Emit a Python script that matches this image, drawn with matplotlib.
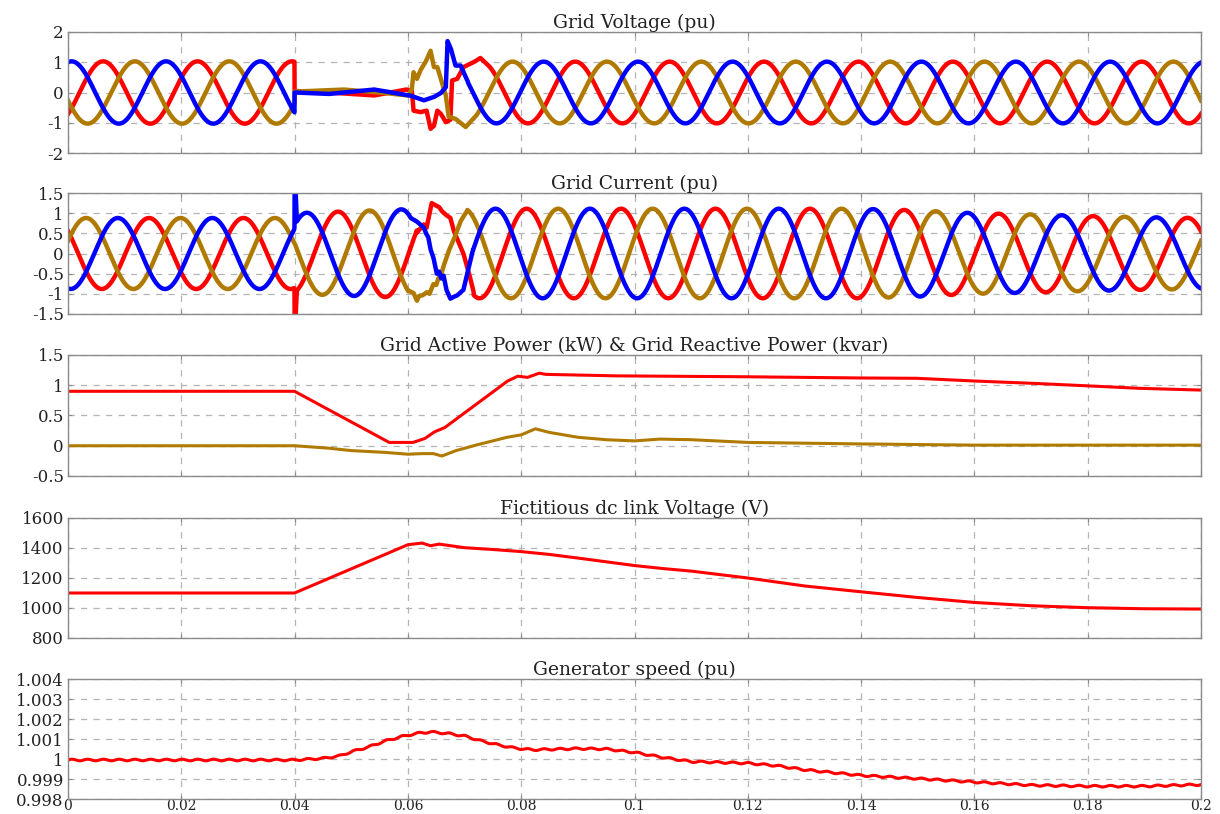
import numpy as np
import matplotlib
matplotlib.use('Agg')
import matplotlib.pyplot as plt

plt.rcParams['font.family'] = ['DejaVu Serif', 'Liberation Serif']

RED = '#ff0000'
BLUE = '#0000ff'
BROWN = '#b07a00'

f_grid = 60.0
t = np.linspace(0, 0.2, 8001)

# ---- grid voltage (pu): time of a positive peak per phase, amplitude envelope
v_peak = {'a': 0.0062, 'b': 0.00064, 'c': 0.0118}
v_env_t = [0.0, 0.04, 0.07, 0.2]
v_env_v = [1.03, 1.03, 1.02, 1.02]

# fault / recovery part
va_fault_t = [0.04, 0.046, 0.054, 0.0597, 0.0607, 0.061, 0.0622, 0.0633, 0.064, 0.0646,
              0.0652, 0.0658, 0.0667, 0.0675, 0.0678, 0.0687, 0.0698, 0.0716, 0.0728, 0.0745]
va_fault_v = [0.05, 0.0, -0.1, 0.1, 0.05, -0.6, -0.65, -0.6, -1.2, -1.1,
              -0.6, -0.7, -0.98, -0.9, 0.4, 0.45, 0.84, 1.0, 1.14, 0.84]
vb_fault_t = [0.04, 0.046, 0.054, 0.0604, 0.0628, 0.0646, 0.0658, 0.0667, 0.067, 0.0676,
              0.0684, 0.0693, 0.0706]
vb_fault_v = [0.0, -0.05, 0.1, -0.1, -0.26, -0.15, -0.02, 0.18, 1.7, 1.44,
              0.89, 0.89, 0.35]
vc_fault_t = [0.04, 0.0486, 0.055, 0.0601, 0.0607, 0.061, 0.0616, 0.0622, 0.0631, 0.064,
              0.0646, 0.0652, 0.0658, 0.0667, 0.0672, 0.0684, 0.0702, 0.072]
vc_fault_v = [0.03, 0.1, 0.0, -0.1, 0.12, 0.67, 0.45, 0.73, 1.0, 1.38,
              0.84, 0.84, 0.45, -0.1, -0.8, -0.87, -1.14, -0.78]

# ---- grid current (pu)
i_peak = {'a': 0.0143, 'b': 0.0088, 'c': 0.0032}
i_env_t = [0.0, 0.0399, 0.0401, 0.06, 0.068, 0.14, 0.15, 0.16, 0.17, 0.18, 0.19, 0.2]
i_env_v = [0.88, 0.88, 1.0, 1.1, 1.11, 1.11, 1.07, 1.0, 0.97, 0.93, 0.9, 0.88]

ia_spike_t = [0.04, 0.0402, 0.0404]
ia_spike_v = [-1.5, -1.5, -0.88]
ib_spike_t = [0.04, 0.0402, 0.0404]
ib_spike_v = [1.5, 1.5, 0.8]
ia_fault_t = [0.0616, 0.0628, 0.0633, 0.0642, 0.0648, 0.0655, 0.066, 0.0666, 0.0675,
              0.0681, 0.0698, 0.0708, 0.0716]
ia_fault_v = [0.52, 0.72, 0.64, 1.25, 1.2, 1.15, 1.05, 0.97, 0.88,
              0.56, 0.0, -0.5, -0.95]
ib_fault_t = [0.0605, 0.0615, 0.0622, 0.0628, 0.0632, 0.0636, 0.064, 0.0645, 0.0651,
              0.0655, 0.0659, 0.0663, 0.0668, 0.0675, 0.068, 0.0687, 0.0698, 0.0715]
ib_fault_v = [0.88, 0.8, 0.72, 0.64, 0.5, 0.4, 0.1, -0.1, -0.5,
              -0.45, -0.62, -0.55, -0.9, -1.12, -1.08, -1.04, -0.9, 0.1]
ic_fault_t = [0.0601, 0.061, 0.0616, 0.062, 0.0625, 0.063, 0.0633, 0.0638, 0.0645,
              0.065, 0.0654, 0.0658, 0.0663, 0.0672, 0.0681, 0.0693, 0.0705]
ic_fault_v = [-0.92, -0.98, -1.17, -1.05, -1.04, -1.0, -0.96, -1.0, -0.76,
              -0.78, -0.6, -0.55, -0.31, 0.06, 0.35, 0.8, 1.07]

# ---- active / reactive power
p_t = [0.0, 0.04, 0.0567, 0.0609, 0.063, 0.0647, 0.0665, 0.0776, 0.0794, 0.0811, 0.0832,
       0.0843, 0.0969, 0.12, 0.14, 0.1498, 0.16, 0.1708, 0.18, 0.189, 0.2]
p_v = [0.9, 0.9, 0.055, 0.055, 0.12, 0.23, 0.3, 1.07, 1.15, 1.13, 1.2,
       1.18, 1.155, 1.14, 1.12, 1.115, 1.07, 1.03, 0.99, 0.95, 0.92]
q_t = [0.0, 0.04, 0.046, 0.05, 0.056, 0.06, 0.0625, 0.0645, 0.066, 0.0685, 0.072, 0.0775,
       0.08, 0.0825, 0.085, 0.09, 0.095, 0.1, 0.1045, 0.11, 0.12, 0.14, 0.16, 0.2]
q_v = [0.0, 0.0, -0.04, -0.08, -0.11, -0.14, -0.13, -0.13, -0.17, -0.08, 0.01, 0.14,
       0.18, 0.28, 0.22, 0.14, 0.1, 0.08, 0.11, 0.1, 0.055, 0.03, 0.01, 0.01]

# ---- fictitious dc link voltage
vdc_t = [0.0, 0.04, 0.06, 0.0625, 0.064, 0.0655, 0.07, 0.075, 0.08, 0.085, 0.09, 0.095,
         0.1, 0.105, 0.11, 0.12, 0.13, 0.14, 0.15, 0.16, 0.17, 0.18, 0.19, 0.2]
vdc_v = [1100, 1100, 1422, 1433, 1415, 1426, 1402, 1390, 1376, 1357, 1333, 1308,
         1283, 1263, 1246, 1200, 1147, 1108, 1070, 1037, 1015, 1002, 995, 993]

# ---- generator speed
w_t = [0.0, 0.04, 0.045, 0.048, 0.05, 0.053, 0.056, 0.059, 0.062, 0.064, 0.067, 0.07,
       0.073, 0.076, 0.079, 0.082, 0.09, 0.095, 0.1, 0.105, 0.11, 0.12, 0.125, 0.13, 0.14,
       0.15, 0.16, 0.17, 0.18, 0.19, 0.2]
w_v = [0.99995, 0.99995, 1.00003, 1.00016, 1.00036, 1.0006, 1.0009, 1.00113, 1.0013,
       1.00135, 1.00128, 1.00115, 1.0009, 1.0007, 1.00054, 1.00046, 1.00052, 1.0005,
       1.00033, 1.00008, 0.99987, 0.99979, 0.99967, 0.99946, 0.99918, 0.99902, 0.99885,
       0.99869, 0.99864, 0.99864, 0.99872]
w_ripple_amp = 0.00004
w_ripple_f = 360.0


def wave(peak, env_t, env_v, pieces=()):
    y = np.interp(t, env_t, env_v) * np.cos(2 * np.pi * f_grid * (t - peak))
    for seg_t, seg_v in pieces:
        m = (t >= seg_t[0]) & (t <= seg_t[-1])
        y[m] = np.interp(t[m], seg_t, seg_v)
    return y


va = wave(v_peak['a'], v_env_t, v_env_v, pieces=[(va_fault_t, va_fault_v)])
vb = wave(v_peak['b'], v_env_t, v_env_v, pieces=[(vb_fault_t, vb_fault_v)])
vc = wave(v_peak['c'], v_env_t, v_env_v, pieces=[(vc_fault_t, vc_fault_v)])

ia = wave(i_peak['a'], i_env_t, i_env_v, pieces=[(ia_spike_t, ia_spike_v), (ia_fault_t, ia_fault_v)])
ib = wave(i_peak['b'], i_env_t, i_env_v, pieces=[(ib_spike_t, ib_spike_v), (ib_fault_t, ib_fault_v)])
ic = wave(i_peak['c'], i_env_t, i_env_v, pieces=[(ic_fault_t, ic_fault_v)])

speed = np.interp(t, w_t, w_v) + w_ripple_amp * np.sin(2 * np.pi * w_ripple_f * t)

fig = plt.figure(figsize=(12.2, 8.14), dpi=100)
W, H = 1220.0, 814.0
tops = [32, 193, 355, 518, 679]
bottoms = [153, 314, 476, 638, 799]
left, right = 68, 1201

axes = []
for tp, bt in zip(tops, bottoms):
    ax = fig.add_axes([left / W, 1 - bt / H, (right - left) / W, (bt - tp) / H])
    axes.append(ax)

xticks = [0, 0.02, 0.04, 0.06, 0.08, 0.1, 0.12, 0.14, 0.16, 0.18, 0.2]
xlabels = ['0', '0.02', '0.04', '0.06', '0.08', '0.1', '0.12', '0.14', '0.16', '0.18', '0.2']

titles = ['Grid Voltage (pu)', 'Grid Current (pu)',
          'Grid Active Power (kW) & Grid Reactive Power (kvar)',
          'Fictitious dc link Voltage (V)', 'Generator speed (pu)']
yticks = [[-2, -1, 0, 1, 2],
          [-1.5, -1, -0.5, 0, 0.5, 1, 1.5],
          [-0.5, 0, 0.5, 1, 1.5],
          [800, 1000, 1200, 1400, 1600],
          [0.998, 0.999, 1.0, 1.001, 1.002, 1.003, 1.004]]
ylabels = [['-2', '-1', '0', '1', '2'],
           ['-1.5', '-1', '-0.5', '0', '0.5', '1', '1.5'],
           ['-0.5', '0', '0.5', '1', '1.5'],
           ['800', '1000', '1200', '1400', '1600'],
           ['0.998', '0.999', '1', '1.001', '1.002', '1.003', '1.004']]

lw_wave = 3.2
axes[0].plot(t, va, color=RED, lw=lw_wave)
axes[0].plot(t, vc, color=BROWN, lw=lw_wave)
axes[0].plot(t, vb, color=BLUE, lw=lw_wave)

axes[1].plot(t, ia, color=RED, lw=lw_wave)
axes[1].plot(t, ic, color=BROWN, lw=lw_wave)
axes[1].plot(t, ib, color=BLUE, lw=lw_wave)

axes[2].plot(q_t, q_v, color=BROWN, lw=2.2)
axes[2].plot(p_t, p_v, color=RED, lw=2.2)

axes[3].plot(vdc_t, vdc_v, color=RED, lw=2.2)

axes[4].plot(t, speed, color=RED, lw=2.2)

for i, ax in enumerate(axes):
    ax.set_xlim(0, 0.2)
    ax.set_ylim(yticks[i][0], yticks[i][-1])
    ax.set_yticks(yticks[i])
    ax.set_yticklabels(ylabels[i])
    ax.set_xticks(xticks)
    if i == 4:
        ax.set_xticklabels(xlabels)
    else:
        ax.set_xticklabels([])
    ax.set_title(titles[i], fontsize=13.5, pad=3, color='#222222')
    ax.grid(True, color='#b4b4b4', linestyle=(0, (5, 5)), linewidth=0.9)
    for s in ax.spines.values():
        s.set_color('#8a8a8a')
        s.set_linewidth(1.0)
    ax.tick_params(direction='in', length=3, color='#8a8a8a', labelsize=12,
                   labelcolor='#222222', right=True, top=True, pad=3)
    ax.tick_params(axis='x', pad=0, labelsize=10)

fig.savefig('out.png', dpi=100)
